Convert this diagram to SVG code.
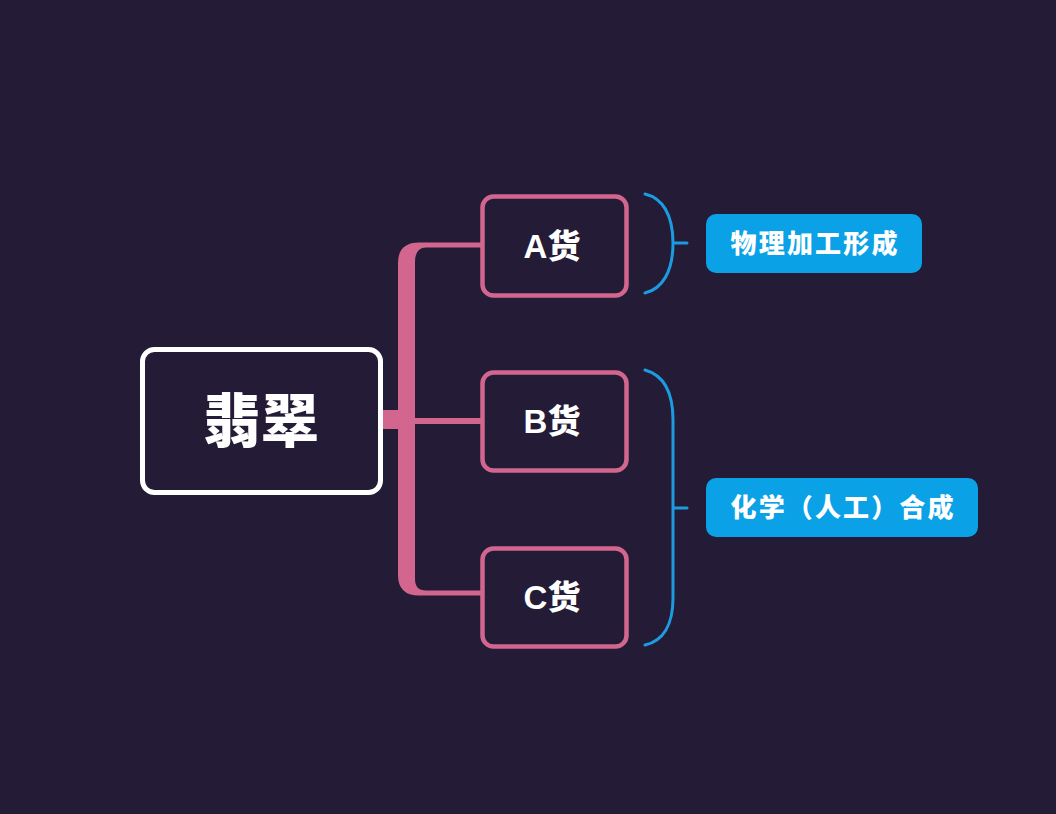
<svg xmlns="http://www.w3.org/2000/svg" width="1056" height="814" viewBox="0 0 1056 814">
<defs>
<style>
.bg{fill:#241b36}
.root{fill:#241b36;stroke:#ffffff;stroke-width:5}
.child{fill:#241b36;stroke:#d2668f;stroke-width:4.5}
.lbl{fill:#0ba1e6}
.brace{fill:none;stroke:#1c9ce0;stroke-width:3;stroke-linecap:round}
.t{font-family:"Liberation Sans","Noto Sans CJK SC",sans-serif;font-weight:900;fill:#ffffff;text-anchor:middle}
</style>
</defs>
<rect class="bg" x="0" y="0" width="1056" height="814"/>
<g id="connectors">
<path fill="#d2668f" d="M481,242.5 H419 Q398,242.5 398,263 V575 Q398,595.5 419,595.5 H481 V590.5 H426 Q415,590.5 415,579 V424 H481 V418 H415 V262 Q415,247.5 426,247.5 H481 Z"/>
<rect fill="#d2668f" x="382" y="410" width="20" height="19"/>
<path class="brace" d="M645,194 C662,198 673,214 673,243 C673,272 662,289 645,293 M673,243 H687"/>
<path class="brace" d="M645,370 C663,375 673,392 673,420 V598 C673,625 663,641 645,645 M673,508 H687"/>
</g>
<g id="node-root">
<rect class="root" x="142.5" y="349.5" width="238" height="143" rx="12"/>
<text class="t" x="261" y="442" font-size="58">翡翠</text>
</g>
<g id="node-a">
<rect class="child" x="482.5" y="196.5" width="144" height="99" rx="11"/>
<text class="t" x="552" y="258" font-size="33">A货</text>
</g>
<g id="node-b">
<rect class="child" x="482.5" y="372.5" width="144" height="98" rx="11"/>
<text class="t" x="552" y="433" font-size="33">B货</text>
</g>
<g id="node-c">
<rect class="child" x="482.5" y="548.5" width="144" height="98" rx="11"/>
<text class="t" x="552" y="609" font-size="33">C货</text>
</g>
<g id="label-physical">
<rect class="lbl" x="706" y="214" width="216" height="59" rx="10"/>
<text class="t" x="814" y="253" font-size="26" textLength="167" lengthAdjust="spacing">物理加工形成</text>
</g>
<g id="label-chemical">
<rect class="lbl" x="706" y="478" width="272" height="59" rx="10"/>
<text class="t" x="842" y="517" font-size="26" textLength="223" lengthAdjust="spacing">化学（人工）合成</text>
</g>
</svg>
